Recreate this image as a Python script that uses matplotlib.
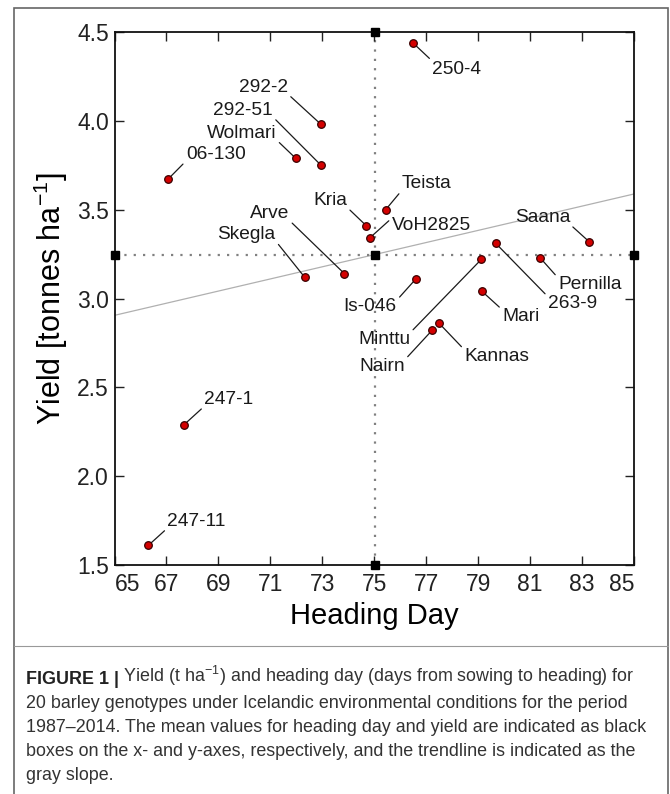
import numpy as np
import matplotlib
matplotlib.use("Agg")
import matplotlib.pyplot as plt
from matplotlib.lines import Line2D
from matplotlib.patches import Rectangle

plt.rcParams['font.family'] = ['Liberation Sans', 'DejaVu Sans']
plt.rcParams['mathtext.fontset'] = 'custom'
plt.rcParams['mathtext.rm'] = 'Liberation Sans'
plt.rcParams['mathtext.it'] = 'Liberation Sans'

# genotypes, heading day and yield (t/ha)
genotypes = ['250-4', '292-2', '292-51', 'Wolmari', '06-130', 'Skegla', 'Arve',
             'Kria', 'VoH2825', 'Teista', 'Is-046', 'Minttu', 'Nairn', 'Kannas',
             'Mari', '263-9', 'Pernilla', 'Saana', '247-1', '247-11']
heading = [76.48, 72.95, 72.95, 71.97, 67.05, 72.32, 73.85,
           74.69, 74.82, 75.44, 76.60, 79.12, 77.22, 77.50,
           79.15, 79.68, 81.38, 83.27, 67.68, 66.30]
yld = [4.44, 3.98, 3.75, 3.79, 3.67, 3.12, 3.14,
       3.41, 3.34, 3.50, 3.11, 3.22, 2.82, 2.86,
       3.04, 3.31, 3.23, 3.32, 2.29, 1.61]

xticks = [65, 67, 69, 71, 73, 75, 77, 79, 81, 83, 85]
yticks = [1.5, 2.0, 2.5, 3.0, 3.5, 4.0, 4.5]
ytick_labels = ['1.5', '2.0', '2.5', '3.0', '3.5', '4.0', '4.5']

# label placement: offset in pixels of the text anchor, alignment, leader end on text
label_pos = {
    '250-4': (19, -27, 'left', (0.05, 0.9)),
    '292-2': (-33, 37, 'right', (1, 0.1)),
    '292-51': (-48, 55, 'right', (1, 0.1)),
    'Wolmari': (-19, 25, 'right', (1, 0.1)),
    '06-130': (18, 25, 'left', (0, 0.1)),
    'Skegla': (-29, 43, 'right', (1, 0.1)),
    'Arve': (-55, 60, 'right', (1, 0.1)),
    'Kria': (-19, 25, 'right', (1, 0.1)),
    'VoH2825': (22, 13, 'left', (0, 0.9)),
    'Teista': (16, 26, 'left', (0, 0.1)),
    'Is-046': (-19, -28, 'right', (1, 0.9)),
    'Minttu': (-71, -80, 'right', (1, 0.9)),
    'Nairn': (-27, -36, 'right', (1, 0.9)),
    'Kannas': (25, -33, 'left', (0, 0.9)),
    'Mari': (20, -25, 'left', (0, 0.9)),
    '263-9': (52, -60, 'left', (0, 0.9)),
    'Pernilla': (18, -27, 'left', (0, 0.9)),
    'Saana': (-19, 24, 'right', (1, 0.1)),
    '247-1': (20, 25, 'left', (0, 0.1)),
    '247-11': (19, 24, 'left', (0, 0.1)),
}

fig = plt.figure(figsize=(6.7, 7.94), dpi=100)
ax = fig.add_axes([0.1709, 0.2884, 0.9463 - 0.1709, 0.9597 - 0.2884])

x = np.array(heading)
y = np.array(yld)
mx, my = x.mean(), y.mean()

# trendline
k, b = np.polyfit(x, y, 1)
xl = np.array([65, 85])
ax.plot(xl, k * xl + b, color='#b0b0b0', lw=0.9, zorder=1)

# mean lines and boxes
ax.axvline(mx, color='#808080', lw=1.6, ls=(0, (1, 3.2)), zorder=1)
ax.axhline(my, color='#808080', lw=1.6, ls=(0, (1, 3.2)), zorder=1)
ax.plot([mx, mx, 65, 85, mx], [1.5, 4.5, my, my, my], 's', color='black',
        ms=6, clip_on=False, zorder=5)

for g, xi, yi in zip(genotypes, heading, yld):
    dx, dy, ha, rp = label_pos[g]
    ax.annotate(g, (xi, yi), xytext=(dx, dy), textcoords='offset pixels',
                ha=ha, va='center', fontsize=13.8, color='#1a1a1a',
                arrowprops=dict(arrowstyle='-', color='#1a1a1a', lw=0.9,
                                shrinkA=0, shrinkB=0, relpos=rp), zorder=3)

ax.scatter(x, y, s=30, color='#d40000', edgecolor='#3a0000', linewidth=0.9, zorder=4)

ax.set_xlim(65, 85)
ax.set_ylim(1.5, 4.5)
ax.set_xticks(xticks)
ax.set_xticklabels([str(t) for t in xticks])
ax.set_yticks(yticks)
ax.set_yticklabels(ytick_labels)
ax.tick_params(direction='in', length=6.5, width=1, top=True, right=True,
               labelsize=16.5, colors='#222222')
ax.tick_params(axis='x', pad=6)
ax.tick_params(axis='y', pad=4)
xl_labels = ax.get_xticklabels()
xl_labels[0].set_ha('left')
xl_labels[-1].set_ha('right')
for s in ax.spines.values():
    s.set_linewidth(1.3)
    s.set_color('#111111')

ax.set_xlabel('Heading Day', fontsize=21, labelpad=4)
ax.set_ylabel('Yield [tonnes ha$^{-1}$]', fontsize=22, labelpad=5)

# outer frame and separator
fig.patches.append(Rectangle((14 / 670, -0.01), 654 / 670, 1 - 8 / 794 + 0.01,
                             transform=fig.transFigure, fill=False,
                             edgecolor='#666666', lw=1.2))
fig.lines.append(Line2D([14 / 670, 668 / 670], [1 - 646 / 794] * 2,
                        transform=fig.transFigure, color='#999999', lw=0.8))

# caption
cap_font = ['Liberation Sans Narrow', 'Liberation Sans', 'DejaVu Sans']
cap_size = 12.9
line_y = [680, 704, 728, 752, 776]
bold = fig.text(26 / 670, 1 - line_y[0] / 794, 'FIGURE 1 |', family=cap_font,
                weight='bold', fontsize=cap_size, va='center', color='#222222')
ax.annotate(' Yield (t ha$^{-1}$) and heading day (days from sowing to heading) for',
            xy=(1, 0), xycoords=bold, va='bottom', ha='left', family=cap_font,
            fontsize=cap_size, color='#333333')
rest = ['20 barley genotypes under Icelandic environmental conditions for the period',
        '1987\u20132014. The mean values for heading day and yield are indicated as black',
        'boxes on the x- and y-axes, respectively, and the trendline is indicated as the',
        'gray slope.']
for t, yy in zip(rest, line_y[1:]):
    fig.text(26 / 670, 1 - yy / 794, t, family=cap_font, fontsize=cap_size,
             va='center', color='#333333')

fig.savefig('out.png', dpi=100)
